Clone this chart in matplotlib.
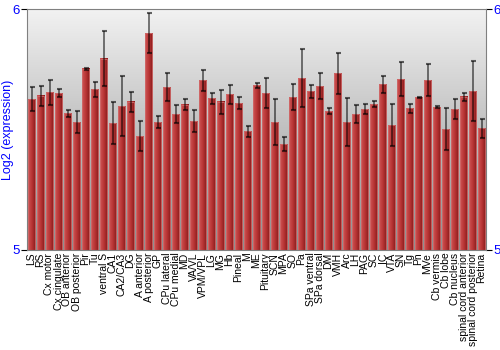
import numpy as np
import matplotlib.pyplot as plt
from matplotlib.colors import LinearSegmentedColormap

plt.rcParams['font.family'] = ['Liberation Sans', 'DejaVu Sans']

regions = ['LS', 'RS', 'Cx motor', 'Cx cingulate', 'OB anterior', 'OB posterior',
           'Pir', 'Tu', 'ventral S', 'CA1', 'CA2/CA3', 'DG', 'A anterior',
           'A posterior', 'GP', 'CPu lateral', 'CPu medial', 'MD', 'VA/VL',
           'VPM/VPL', 'LG', 'MG', 'Hb', 'Pineal', 'M', 'ME', 'Pituitary', 'SCN',
           'MPA', 'SO', 'Pa', 'SPa ventral', 'SPa dorsal', 'DM', 'VMH', 'Arc',
           'LH', 'PAG', 'SC', 'IC', 'VTA', 'SN', 'Tg', 'Pn', 'MVe', 'Cb vermis',
           'Cb lobe', 'Cb nucleus', 'spinal cord anterior', 'spinal cord posterior',
           'Retina']
expr = [5.627, 5.640, 5.654, 5.650, 5.567, 5.531, 5.752, 5.667, 5.794, 5.526,
        5.598, 5.615, 5.473, 5.900, 5.531, 5.676, 5.564, 5.603, 5.535, 5.704,
        5.629, 5.615, 5.646, 5.610, 5.492, 5.683, 5.651, 5.531, 5.440, 5.635,
        5.714, 5.658, 5.680, 5.577, 5.734, 5.531, 5.564, 5.585, 5.606, 5.688,
        5.517, 5.710, 5.588, 5.634, 5.705, 5.593, 5.502, 5.585, 5.636, 5.660,
        5.505]
sd = [0.051, 0.041, 0.052, 0.017, 0.014, 0.044, 0.003, 0.032, 0.115, 0.088,
      0.124, 0.041, 0.063, 0.082, 0.023, 0.058, 0.039, 0.023, 0.046, 0.044,
      0.023, 0.050, 0.039, 0.023, 0.022, 0.011, 0.062, 0.094, 0.028, 0.055,
      0.119, 0.028, 0.053, 0.013, 0.085, 0.098, 0.037, 0.021, 0.011, 0.035,
      0.087, 0.069, 0.019, 0.002, 0.065, 0.004, 0.087, 0.043, 0.017, 0.126,
      0.039]

n = len(regions)
x = np.arange(n)
ymin, ymax = 5, 6

fig = plt.figure(figsize=(5, 3.5), dpi=100)
ax = fig.add_axes([0.054, 0.286, 0.918, 0.688])

# grey gradient background
bg = LinearSegmentedColormap.from_list('bg', ['#8e8e8e', '#f2f2f2'])
ax.imshow(np.linspace(0, 1, 256).reshape(-1, 1), extent=[-0.5, n - 0.5, ymin, ymax],
          origin='lower', aspect='auto', cmap=bg, zorder=0)

bars = ax.bar(x, np.array(expr) - ymin, bottom=ymin, width=0.88, color='none',
              edgecolor='#cf6a6a', linewidth=0.6, zorder=2)

# red gradient inside each bar
redmap = LinearSegmentedColormap.from_list('red', ['#cf5555', '#b83434', '#861b1b'])
grad = np.linspace(0, 1, 32).reshape(1, -1)
for b in bars:
    x0, w, h = b.get_x(), b.get_width(), b.get_height()
    ax.imshow(grad, extent=[x0, x0 + w, ymin, ymin + h], aspect='auto',
              cmap=redmap, zorder=1)

ax.errorbar(x, expr, yerr=sd, fmt='none', ecolor='black', alpha=0.6,
            elinewidth=1.2, capsize=1.8, capthick=1.5, zorder=3)

ax.set_xlim(-0.5, n - 0.5)
ax.set_ylim(ymin, ymax)
ax.set_yticks([5, 6])
ax.set_xticks(x)
ax.set_xticklabels(regions, rotation=90, fontsize=7.5)
ax.tick_params(axis='x', length=0, pad=2)
ax.tick_params(axis='y', left=True, right=True, labelright=True, length=4,
               labelcolor='blue', labelsize=9.5, pad=1)
for s in ax.spines.values():
    s.set_color('#808080')
ax.set_ylabel('Log2 (expression)', color='blue', fontsize=9)
ax.yaxis.set_label_coords(-0.029, 0.5)

plt.savefig('out.png', dpi=100)
